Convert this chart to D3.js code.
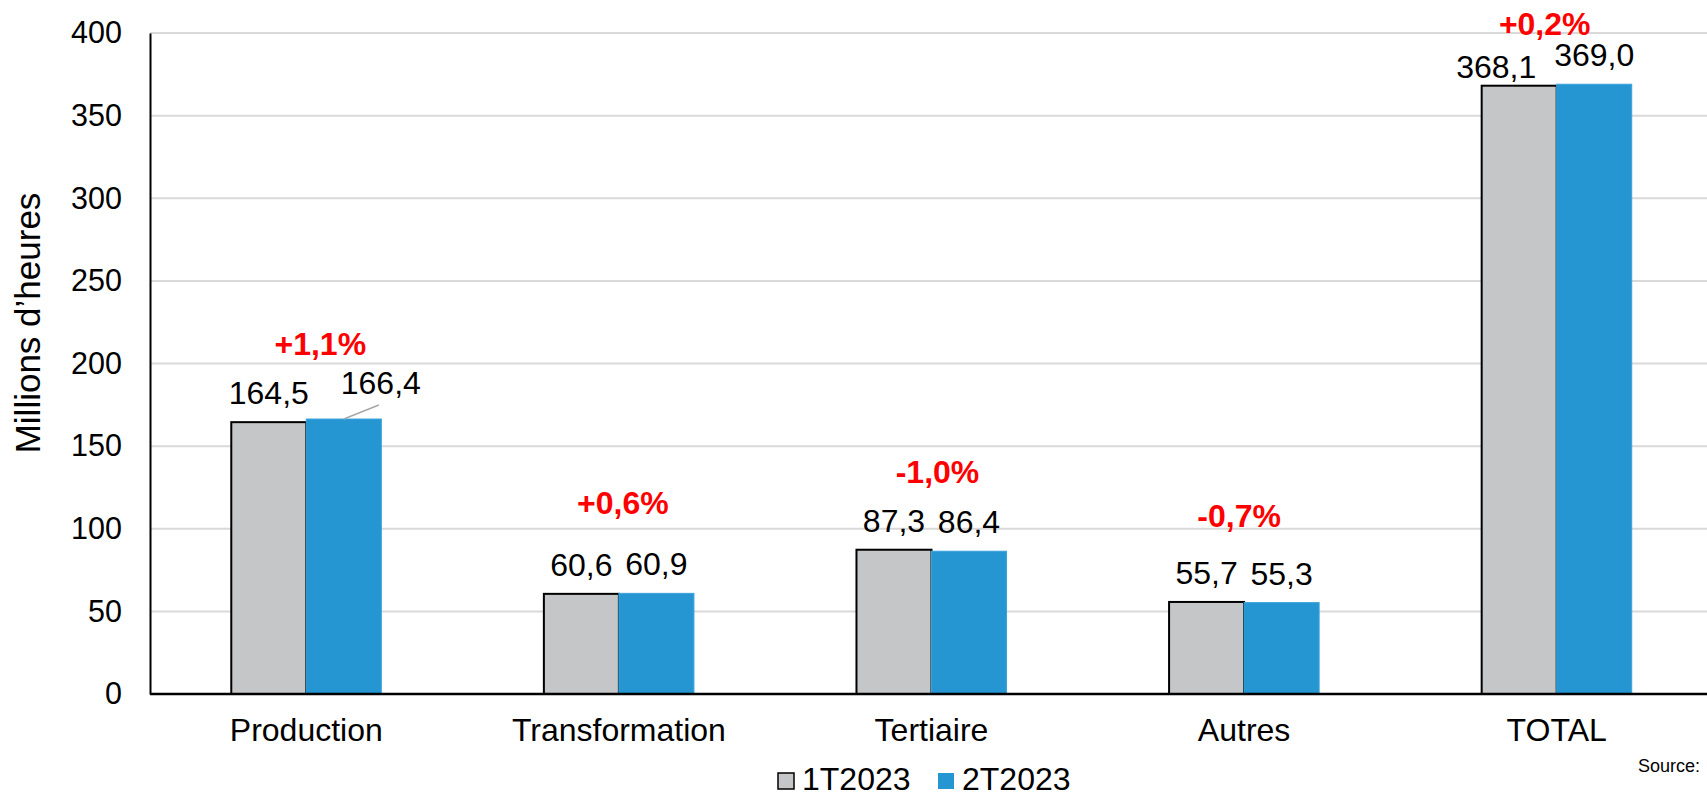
<!DOCTYPE html>
<html>
<head>
<meta charset="utf-8">
<script src="https://cdn.jsdelivr.net/npm/d3@7"></script>
<style>
  html, body { margin: 0; padding: 0; background: #fff; }
  svg { display: block; font-family: "Liberation Sans", Arial, sans-serif; }
</style>
</head>
<body>
<svg id="chart"></svg>
<script>
// data
const categories = ["Production", "Transformation", "Tertiaire", "Autres", "TOTAL"];
const seriesNames = ["1T2023", "2T2023"];
const values1T = [164.5, 60.6, 87.3, 55.7, 368.1];
const values2T = [166.4, 60.9, 86.4, 55.3, 369.0];
const changes = ["+1,1%", "+0,6%", "-1,0%", "-0,7%", "+0,2%"];
const yTicks = [0, 50, 100, 150, 200, 250, 300, 350, 400];

// hand placed labels in the original (layout only)
const pctLift = [64, 79, 67, 75, 49];
const pctShift = [14, 4, 6, -5, -12];
// [category, series, dx, dy]
const labelNudges = [[0, 1, 37, -7], [4, 0, -23, 10]];

const colors = ["#c5c6c8", "#2596d2"];
const width = 1707, height = 797;
const fmt = v => v.toFixed(1).replace(".", ",");

const svg = d3.select("#chart").attr("width", width).attr("height", height);

const x0 = d3.scaleBand()
  .domain(categories)
  .range([150, 1713])
  .paddingInner(0.52)
  .paddingOuter(0.26);

const x1 = d3.scaleBand()
  .domain(seriesNames)
  .range([0, x0.bandwidth()]);

const y = d3.scaleLinear().domain([0, 400]).range([694, 33]);

// gridlines
svg.append("g")
  .selectAll("line")
  .data(yTicks.filter(d => d > 0))
  .join("line")
  .attr("x1", 150)
  .attr("x2", width)
  .attr("y1", d => y(d))
  .attr("y2", d => y(d))
  .attr("stroke", "#d9d9d9")
  .attr("stroke-width", 2);

// y axis
const yAxis = svg.append("g")
  .attr("transform", "translate(150,0)")
  .call(d3.axisLeft(y).tickValues(yTicks).tickSize(0).tickPadding(28));
yAxis.select(".domain").attr("stroke", "#000").attr("stroke-width", 2);
yAxis.selectAll("text")
  .attr("font-size", 30.5)
  .attr("font-family", "Liberation Sans, Arial, sans-serif")
  .attr("fill", "#000");

svg.append("text")
  .attr("transform", "translate(40,323) rotate(-90)")
  .attr("text-anchor", "middle")
  .attr("font-size", 35)
  .attr("fill", "#000")
  .text("Millions d\u2019heures");

// bars
const rows = categories.map((c, i) => ({ cat: c, i, vals: [values1T[i], values2T[i]] }));

const groups = svg.append("g")
  .selectAll("g")
  .data(rows)
  .join("g")
  .attr("transform", d => `translate(${x0(d.cat)},0)`);

groups.selectAll("rect")
  .data(d => d.vals.map((v, s) => ({ v, s, i: d.i })))
  .join("rect")
  .attr("x", d => x1(seriesNames[d.s]))
  .attr("y", d => y(d.v))
  .attr("width", x1.bandwidth())
  .attr("height", d => y(0) - y(d.v))
  .attr("fill", d => colors[d.s])
  .attr("stroke", d => d.s === 0 ? "#000" : "#3aa3dc")
  .attr("stroke-width", d => d.s === 0 ? 2 : 1);

// x axis
const xAxis = svg.append("g")
  .attr("transform", `translate(0,${y(0)})`)
  .call(d3.axisBottom(x0).tickSize(0).tickPadding(24));
xAxis.select(".domain").attr("d", `M150,0H${width}`).attr("stroke", "#000").attr("stroke-width", 2.5);
xAxis.selectAll("text")
  .attr("font-size", 32)
  .attr("font-family", "Liberation Sans, Arial, sans-serif")
  .attr("fill", "#000");

// value labels
groups.each(function (d) {
  const g = d3.select(this);
  d.vals.forEach((v, s) => {
    const nudge = labelNudges.find(n => n[0] === d.i && n[1] === s);
    const cx = x1(seriesNames[s]) + x1.bandwidth() / 2;
    const dx = nudge ? nudge[2] : 0;
    const dy = nudge ? nudge[3] : 0;
    const by = y(v) - 18 + dy;
    if (nudge && dx > 20) {
      g.append("line")
        .attr("x1", cx)
        .attr("y1", y(v))
        .attr("x2", cx + dx - 2)
        .attr("y2", by + 11)
        .attr("stroke", "#a6a6a6")
        .attr("stroke-width", 1.5);
    }
    g.append("text")
      .attr("x", cx + dx)
      .attr("y", by)
      .attr("text-anchor", "middle")
      .attr("font-size", 32)
      .attr("fill", "#000")
      .text(fmt(v));
  });
  g.append("text")
    .attr("x", x0.bandwidth() / 2 + pctShift[d.i])
    .attr("y", y(Math.max(...d.vals)) - pctLift[d.i])
    .attr("text-anchor", "middle")
    .attr("font-size", 32)
    .attr("font-weight", "bold")
    .attr("fill", "#ff0000")
    .text(changes[d.i]);
});

// legend
const legend = svg.append("g").attr("transform", "translate(777,772)");
const legendX = [0, 160];
seriesNames.forEach((name, s) => {
  const lg = legend.append("g").attr("transform", `translate(${legendX[s]},0)`);
  lg.append("rect")
    .attr("x", 1)
    .attr("y", 1)
    .attr("width", 16)
    .attr("height", 16)
    .attr("fill", colors[s])
    .attr("stroke", s === 0 ? "#000" : "none")
    .attr("stroke-width", 1.5);
  lg.append("text")
    .attr("x", 25)
    .attr("y", 18)
    .attr("font-size", 32)
    .attr("fill", "#000")
    .text(name);
});

svg.append("text")
  .attr("x", 1638)
  .attr("y", 772)
  .attr("font-size", 18)
  .attr("fill", "#000")
  .text("Source:");
</script>
</body>
</html>
